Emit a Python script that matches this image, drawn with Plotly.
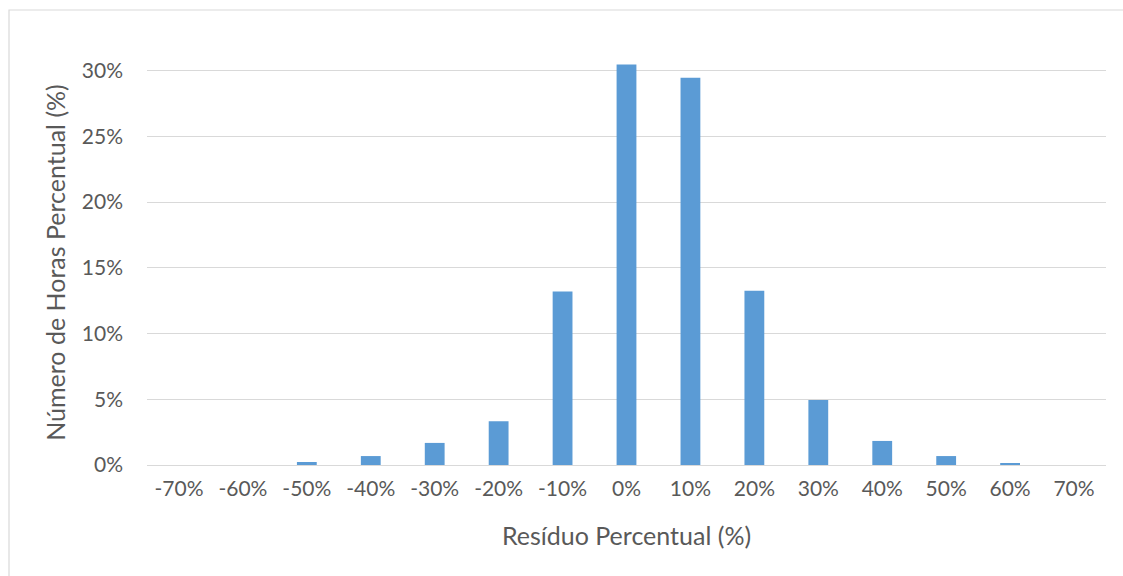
import plotly.graph_objects as go

categories = ["-70%", "-60%", "-50%", "-40%", "-30%", "-20%", "-10%", "0%",
              "10%", "20%", "30%", "40%", "50%", "60%", "70%"]
values = [0.0, 0.0, 0.23, 0.68, 1.68, 3.33, 13.2, 30.45,
          29.45, 13.25, 4.95, 1.83, 0.68, 0.15, 0.0]
y_ticks = [0, 5, 10, 15, 20, 25, 30]
y_tick_labels = ["0%", "5%", "10%", "15%", "20%", "25%", "30%"]

W, H = 1123, 576
ml, mr, mt, mb = 147, 17, 60, 111
ymax = 30.8

fig = go.Figure(go.Bar(x=categories, y=values, marker_color="#5B9BD5",
                       marker_line_width=0, width=0.31))

# border frame
pw = W - ml - mr
ph = H - mt - mb
fig.add_shape(type="rect", xref="paper", yref="paper",
              x0=(9 - ml) / pw, x1=(W + 5 - ml) / pw,
              y0=(H - mb - (H + 5)) / ph, y1=(H - mb - 10) / ph,
              line=dict(color="#D9D9D9", width=1.2), fillcolor="rgba(0,0,0,0)",
              layer="below")

font_family = "Lato, 'Noto Sans', sans-serif"
fig.update_layout(
    width=W, height=H,
    margin=dict(l=ml, r=mr, t=mt, b=mb),
    paper_bgcolor="white", plot_bgcolor="white",
    font=dict(family=font_family, color="#595959", size=21),
    showlegend=False,
    bargap=0.69,
    xaxis=dict(title=dict(text="Resíduo Percentual (%)", font=dict(size=25), standoff=28),
               showgrid=False, showline=True, linecolor="#D9D9D9", linewidth=1.2,
               ticks="", tickfont=dict(size=21), ticklabelstandoff=5),
    yaxis=dict(title=dict(text="Número de Horas Percentual (%)", font=dict(size=25), standoff=9),
               range=[0, ymax], tickvals=y_ticks, ticktext=y_tick_labels,
               showgrid=True, gridcolor="#D9D9D9", gridwidth=1.2,
               zeroline=False, showline=False, ticks="", tickfont=dict(size=21),
               ticklabelstandoff=23),
)

fig.write_html("out.html")
